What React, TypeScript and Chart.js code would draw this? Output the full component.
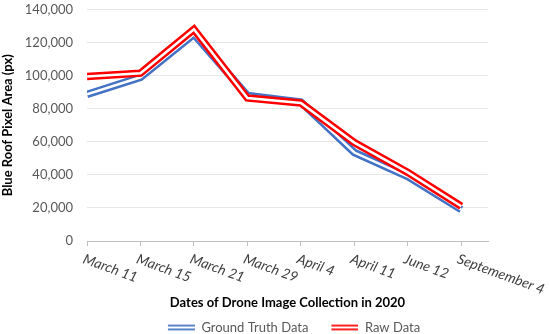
import React, { useEffect, useRef } from 'react';
import { Chart, registerables } from 'chart.js';

Chart.register(...registerables);

const dates = ['March 11', 'March 15', 'March 21', 'March 29', 'April 4', 'April 11', 'June 12', 'Septemember 4'];
const groundTruth = [88700, 99000, 125000, 88000, 84000, 53500, 39000, 19000];
const rawData = [99500, 101500, 128000, 86500, 83500, 59500, 41500, 21000];
const seriesNames = ['Ground Truth Data', 'Raw Data'];
const yMin = 0;
const yMax = 140000;
const yStep = 20000;

const BLUE = '#4472C4';
const RED = '#FF0000';

function makeSample(color: string): HTMLCanvasElement {
  const c = document.createElement('canvas');
  c.width = 40;
  c.height = 8;
  const ctx = c.getContext('2d')!;
  ctx.strokeStyle = color;
  ctx.lineWidth = 1.8;
  ctx.beginPath();
  ctx.moveTo(13, 2.2);
  ctx.lineTo(40, 2.2);
  ctx.moveTo(13, 5.8);
  ctx.lineTo(40, 5.8);
  ctx.stroke();
  return c;
}

const xLabelPlugin = {
  id: 'xLabelPlugin',
  afterDraw(chart: any) {
    const xs = chart.scales.x;
    const ctx = chart.ctx;
    ctx.save();
    ctx.font = 'italic 14px Lato';
    ctx.fillStyle = '#404040';
    ctx.textAlign = 'left';
    ctx.textBaseline = 'top';
    dates.forEach((d, i) => {
      const px = xs.getPixelForValue(i);
      ctx.save();
      ctx.translate(px - 1, xs.top + 11);
      ctx.rotate((20 * Math.PI) / 180);
      ctx.fillText(d, 0, 0);
      ctx.restore();
    });
    ctx.restore();
  },
};

export default function App() {
  const ref = useRef<HTMLCanvasElement>(null);
  useEffect(() => {
    document.body.style.margin = '0';
    const pts = (arr: number[]) => arr.map((v, i) => ({ x: i, y: v }));
    const chart = new Chart(ref.current!, {
      type: 'line',
      data: {
        datasets: [
          {
            label: seriesNames[0],
            data: pts(groundTruth),
            borderColor: BLUE,
            backgroundColor: BLUE,
            borderWidth: 7.5,
            pointRadius: 0,
            tension: 0,
            borderJoinStyle: 'miter',
            order: 3,
            pointStyle: makeSample(BLUE),
          },
          {
            label: seriesNames[1],
            data: pts(rawData),
            borderColor: RED,
            backgroundColor: RED,
            borderWidth: 7.5,
            pointRadius: 0,
            tension: 0,
            borderJoinStyle: 'miter',
            order: 1,
            pointStyle: makeSample(RED),
          },
          {
            label: '',
            data: pts(groundTruth),
            borderColor: '#ffffff',
            borderWidth: 2.5,
            pointRadius: 0,
            tension: 0,
            borderJoinStyle: 'miter',
            order: 2,
          },
          {
            label: '',
            data: pts(rawData),
            borderColor: '#ffffff',
            borderWidth: 2.5,
            pointRadius: 0,
            tension: 0,
            borderJoinStyle: 'miter',
            order: 0,
          },
        ],
      } as any,
      options: {
        animation: false,
        responsive: true,
        maintainAspectRatio: false,
        layout: { padding: { top: 9.5, right: 62, left: 0, bottom: -10 } },
        plugins: {
          legend: {
            position: 'bottom',
            fullSize: false,
            labels: {
              usePointStyle: true,
              pointStyleWidth: 40,
              boxHeight: 8,
              padding: 10,
              color: '#595959',
              font: { family: 'Lato', size: 13 },
              filter: (item: any) => item.datasetIndex < 2,
              sort: (a: any, b: any) => a.datasetIndex - b.datasetIndex,
            },
          },
          tooltip: { enabled: false },
        },
        scales: {
          x: {
            type: 'linear',
            min: 0,
            max: 7.5,
            afterFit: (s: any) => {
              s.height = 70;
              s.paddingLeft = 0;
              s.paddingRight = 0;
            },
            ticks: { stepSize: 1, includeBounds: false, display: false },
            grid: { drawOnChartArea: false, drawTicks: true, tickLength: 5, color: '#bfbfbf' },
            border: { color: '#bfbfbf' },
            title: {
              display: true,
              text: 'Dates of Drone Image Collection in 2020',
              color: '#000000',
              font: { family: 'Lato', size: 13, weight: 'bold' },
              padding: { top: 0, bottom: 0 },
            },
          },
          y: {
            min: yMin,
            max: yMax,
            afterFit: (s: any) => {
              s.width = 87;
              s.paddingTop = 0;
              s.paddingBottom = 0;
            },
            ticks: {
              stepSize: yStep,
              color: '#595959',
              font: { family: 'Lato', size: 13 },
              padding: 14,
            },
            grid: { color: '#e6e6e6', drawTicks: false },
            border: { display: false },
            title: {
              display: true,
              text: 'Blue Roof Pixel Area (px)',
              color: '#000000',
              font: { family: 'Lato', size: 13, weight: 'bold' },
              padding: { top: 0, bottom: 0 },
            },
          },
        },
      } as any,
      plugins: [xLabelPlugin],
    });
    return () => chart.destroy();
  }, []);
  return (
    <div style={{ position: 'relative', width: 550, height: 334 }}>
      <canvas ref={ref} />
    </div>
  );
}
